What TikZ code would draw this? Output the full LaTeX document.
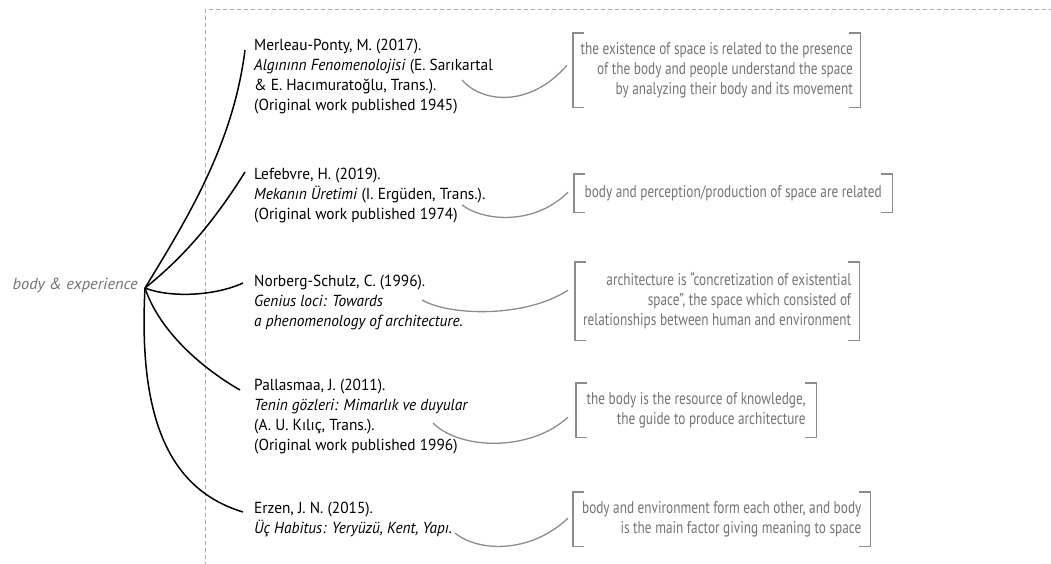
\documentclass[tikz,border=0pt]{standalone}
\usepackage{fontspec}
\setmainfont{PT Sans}[FakeStretch=0.96]
\newfontfamily\notefont{PT Sans}[FakeStretch=0.78]
\newfontfamily\themefont{PT Sans}[FakeStretch=1.03]
\usetikzlibrary{calc}
\definecolor{inkgray}{RGB}{115,115,115}
\definecolor{rulegray}{RGB}{140,140,140}
\definecolor{framegray}{RGB}{170,170,170}
\newcommand\citesize{\fontsize{16}{20}\selectfont}
\newcommand\notesize{\fontsize{17}{20}\selectfont}
\begin{document}
\begin{tikzpicture}[x=1pt,y=-1pt,
  cite/.style={anchor=north west, align=left, inner xsep=8pt, inner ysep=0pt, font=\citesize},
  note/.style={anchor=north west, align=right, inner sep=0pt, text=inkgray, font=\notefont\notesize},
  branch/.style={line width=1.5pt, black},
  link/.style={line width=1.3pt, rulegray},
  bracket/.style={line width=1.6pt, rulegray},
  frame/.style={framegray, line width=1pt, dash pattern=on 4pt off 3pt}]
\useasboundingbox (0,0) rectangle (1051,564);

% dashed frame around the references
\draw[frame] (1060,10) -- (205,10) -- (205,564) -- (1060,564);

% central theme
\node[anchor=east, inner sep=0pt, text=inkgray, font=\themefont\citesize\itshape] (be) at (138,285) {body \& experience};
\coordinate (hub) at ([xshift=7pt,yshift=-3pt]be.east);

% references
\node[cite] (c1) at (246,36.7) {\strut Merleau-Ponty, M. (2017).\\ \textit{Algınınn Fenomenolojisi} (E. Sarıkartal\\ \& E. Hacımuratoğlu, Trans.).\\ (Original work published 1945)};
\node[cite] (c2) at (246,165) {\strut Lefebvre, H. (2019).\\ \textit{Mekanın Üretimi} (I. Ergüden, Trans.).\\ (Original work published 1974)};
\node[cite] (c3) at (246,272.5) {\strut Norberg-Schulz, C. (1996).\\ \textit{Genius loci: Towards}\\ \textit{a phenomenology of architecture.}};
\node[cite] (c4) at (246,376) {\strut Pallasmaa, J. (2011).\\ \textit{Tenin gözleri: Mimarlık ve duyular}\\ (A. U. Kılıç, Trans.).\\ (Original work published 1996)};
\node[cite] (c5) at (246,499) {\strut Erzen, J. N. (2015).\\ \textit{Üç Habitus: Yeryüzü, Kent, Yapı.}};

% interpretations in brackets
\node[note, minimum width=287pt, minimum height=74pt] (n1) at (573,33) {\strut the existence of space is related to the presence\\ of the body and people understand the space\\ by analyzing their body and its movement\strut};
\node[note, minimum width=318pt, minimum height=38pt] (n2) at (574,174) {\strut body and perception/production of space are related};
\node[note, minimum width=284pt, minimum height=78pt] (n3) at (575,262) {\strut architecture is “concretization of existential\\ space”, the space which consisted of\\ relationships between human and environment\strut};
\node[note, minimum width=240pt, minimum height=54pt] (n4) at (576,383) {\strut the body is the resource of knowledge,\\ the guide to produce architecture\strut};
\node[note, minimum width=297pt, minimum height=54pt] (n5) at (573,492) {\strut body and environment form each other, and body\\ is the main factor giving meaning to space\strut};

\foreach \n in {n1,n2,n3,n4,n5}{
  \draw[bracket] ([xshift=11pt]\n.north west) -| (\n.south west) -- ([xshift=11pt]\n.south west);
  \draw[bracket] ([xshift=-11pt]\n.north east) -| (\n.south east) -- ([xshift=-11pt]\n.south east);
}

% branches from the theme to the references
\draw[branch] (hub) .. controls (185,222) and (233,146) .. ([xshift=-1pt,yshift=-13.3pt]c1.north west);
\draw[branch] (hub) .. controls (185,256) and (215,220) .. ([xshift=-1pt,yshift=-7pt]c2.north west);
\draw[branch] (hub) .. controls (170,298) and (215,296) .. ([xshift=-3pt,yshift=-10.5pt]c3.north west);
\draw[branch] (hub) .. controls (160,333) and (205,370) .. ([xshift=-6pt,yshift=-14pt]c4.north west);
\draw[branch] (hub) .. controls (138,420) and (170,490) .. ([xshift=-3pt,yshift=-13pt]c5.north west);

% links from the references to their interpretations
\coordinate (s1) at (462,80);
\coordinate (s2) at (462,205);
\coordinate (s3) at (422,300);
\coordinate (s4) at (433,423);
\coordinate (s5) at (455,533);
\draw[link] (s1) .. controls (482,103) and (530,108) .. ([xshift=-6pt,yshift=5pt]n1.west);
\draw[link] (s2) .. controls (485,222) and (535,225) .. ([xshift=-6pt,yshift=1pt]n2.west);
\draw[link] (s3) .. controls (450,316) and (525,318) .. ([xshift=-7pt,yshift=11pt]n3.west);
\draw[link] (s4) .. controls (460,450) and (530,452) .. ([xshift=-8pt,yshift=-7pt]n4.west);
\draw[link] (s5) .. controls (478,552) and (530,554) .. ([xshift=-5pt,yshift=1pt]n5.west);
\end{tikzpicture}
\end{document}
